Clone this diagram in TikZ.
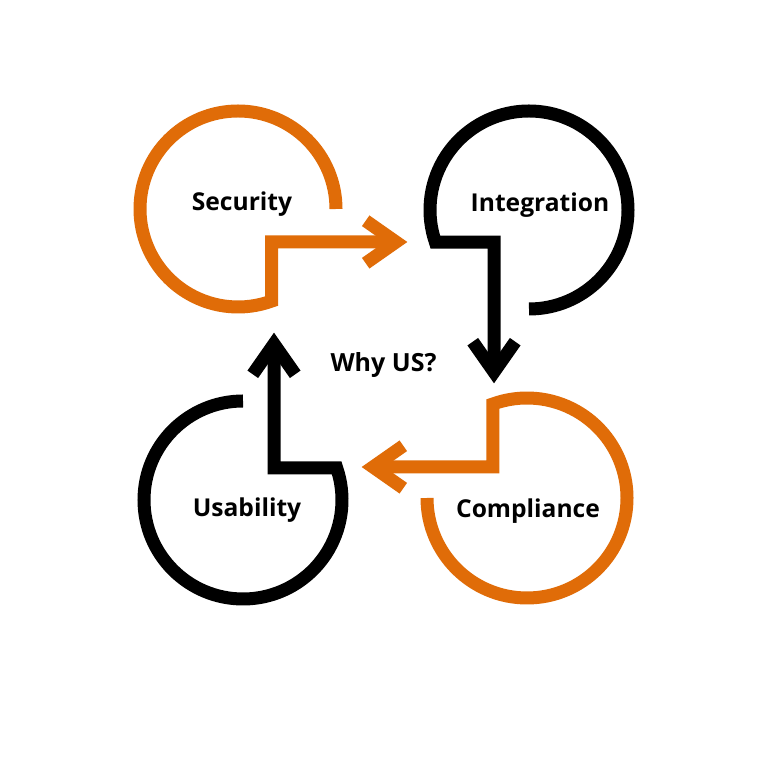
\documentclass[tikz,border=0pt]{standalone}
\usepackage{fontspec}
\setmainfont{Open Sans}
\definecolor{orangeA}{RGB}{224,108,8}
\begin{document}
\begin{tikzpicture}[x=1pt,y=1pt,
  ring/.style={line width=13pt, line join=miter, line cap=butt},
  orng/.style={ring, draw=orangeA},
  blk/.style={ring, draw=black},
  lbl/.style={font=\fontsize{24.6}{25}\selectfont\bfseries, anchor=base, inner sep=0pt, text=black}]
\useasboundingbox (0,0) rectangle (768,768);
\fill[white] (0,0) rectangle (768,768);

% Security
\coordinate (sA) at (336,559);
\coordinate (sC) at (271.5,526);
\coordinate (sT) at (396,526);
\draw[orng] (sA) arc[start angle=0,end angle=290,radius=98] -- (sC) -- (sT);
\draw[orng] ([shift={(145:37)}]sT) -- (sT) -- ([shift={(215:37)}]sT);

% Integration
\coordinate (iA) at (529,459);
\coordinate (iC) at (494,525.8);
\coordinate (iT) at (494,396);
\draw[blk] (iA) arc[start angle=270,end angle=559,radius=99] -- (iC) -- (iT);
\draw[blk] ([shift={(55:37)}]iT) -- (iT) -- ([shift={(125:37)}]iT);

% Compliance
\coordinate (cA) at (427,270);
\coordinate (cC) at (492.8,301);
\coordinate (cT) at (373,301);
\draw[orng] (cA) arc[start angle=180,end angle=470,radius=100] -- (cC) -- (cT);
\draw[orng] ([shift={(35:37)}]cT) -- (cT) -- ([shift={(-35:37)}]cT);

% Usability
\coordinate (uA) at (243,367);
\coordinate (uC) at (274,300.2);
\coordinate (uT) at (274,424);
\draw[blk] (uA) arc[start angle=90,end angle=379,radius=99] -- (uC) -- (uT);
\draw[blk] ([shift={(235:37)}]uT) -- (uT) -- ([shift={(305:37)}]uT);

% Labels
\node[lbl] (sec) at (242,557) {Security};
\node[lbl] (int) at (540,556) {Integration};
\node[lbl] (usa) at (247,251) {Usability};
\node[lbl] (com) at (528,250) {Compliance};
\node[lbl, font=\fontsize{25}{25}\selectfont\bfseries] (why) at (383.5,396) {Why US?};
\end{tikzpicture}
\end{document}
